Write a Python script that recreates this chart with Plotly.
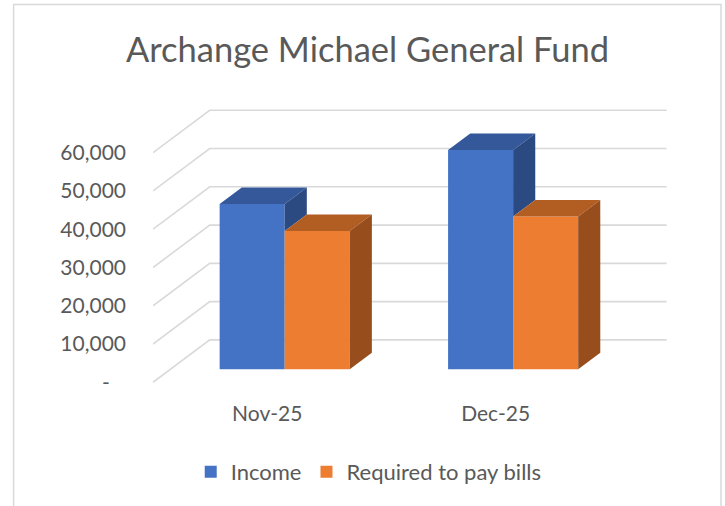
import plotly.graph_objects as go

# ---------------- data ----------------
categories = ["Nov-25", "Dec-25"]
income = [43200, 57300]
required = [36100, 39900]
series_names = ["Income", "Required to pay bills"]
y_tickvals = [0, 10000, 20000, 30000, 40000, 50000, 60000]
y_ticktext = ["-\u00a0\u00a0\u00a0", "10,000", "20,000", "30,000", "40,000", "50,000", "60,000"]
title_text = "Archange Michael General Fund"

# ---------------- styling / geometry ----------------
W, H = 725, 506
L = 153.3
R = W - 675
T = 95
B = H - 395
PLOT_W = W - L - R
PLOT_H = H - T - B
PX_PER_CAT = 228.3
PX_PER_VAL = 38.27 / 10000.0
ZERO_PX = 382.3                 # pixel y of value 0 on the front plane
plot_bottom_px = H - B
y_min = -(plot_bottom_px - ZERO_PX) / PX_PER_VAL
y_max = (ZERO_PX - T) / PX_PER_VAL
x_min = -0.5
x_max = x_min + PLOT_W / PX_PER_CAT

# oblique depth (full wall depth) in data units
DX = 56.7 / PX_PER_CAT
DY = 42.4 / PX_PER_VAL
F_FRONT = 0.308     # bar front at this fraction of depth
F_DEPTH = 0.39      # bar depth as fraction of total depth
BAR_W = 65 / PX_PER_CAT

FRONT = ["#4472C4", "#ED7D31"]
TOP = ["#34589A", "#B25D21"]
SIDE = ["#2B4A82", "#974E1C"]
GRID = "#D9D9D9"
TXT = "#595959"
FONT = "Lato"

fig = go.Figure()

series = [income, required]
n_cat = len(categories)

# front faces as bars
for s, vals in enumerate(series):
    xs = [i + F_FRONT * DX + (s - 1) * BAR_W + BAR_W / 2 for i in range(n_cat)]
    fig.add_trace(go.Bar(
        x=xs, y=vals, base=[F_FRONT * DY] * n_cat, width=BAR_W,
        name=series_names[s], marker=dict(color=FRONT[s], line=dict(width=0)),
        hovertemplate="%{text}: %{y:,}<extra>" + series_names[s] + "</extra>",
        text=categories, textposition="none",
    ))

# top and side faces
for i in range(n_cat):
    for s, vals in enumerate(series):
        v = vals[i]
        x0 = i + F_FRONT * DX + (s - 1) * BAR_W
        x1 = x0 + BAR_W
        yb = F_FRONT * DY
        ddx, ddy = F_DEPTH * DX, F_DEPTH * DY
        # top face
        fig.add_trace(go.Scatter(
            x=[x0, x1, x1 + ddx, x0 + ddx, x0],
            y=[v + yb, v + yb, v + yb + ddy, v + yb + ddy, v + yb],
            fill="toself", fillcolor=TOP[s], mode="lines",
            line=dict(width=0, color=TOP[s]), showlegend=False, hoverinfo="skip"))
        # side face: hidden where the next series bar stands next to it
        h0 = 0
        if s + 1 < len(series):
            h0 = series[s + 1][i]
        if h0 < v:
            fig.add_trace(go.Scatter(
                x=[x1, x1, x1 + ddx, x1 + ddx, x1],
                y=[h0 + yb, v + yb, v + yb + ddy, h0 + yb + ddy, h0 + yb],
                fill="toself", fillcolor=SIDE[s], mode="lines",
                line=dict(width=0, color=SIDE[s]), showlegend=False, hoverinfo="skip"))

# wall gridlines (left wall slant + back wall)
shapes = []
x_front_left = x_min
x_front_right = x_min + n_cat
for v in y_tickvals:
    path = "M {a},{b} L {c},{d} L {e},{f}".format(
        a=x_front_left, b=v, c=x_front_left + DX, d=v + DY,
        e=x_front_right + DX, f=v + DY)
    shapes.append(dict(type="path", path=path, xref="x", yref="y",
                       line=dict(color=GRID, width=1.6), layer="below"))

# chart border
def px_to_paper_x(px):
    return (px - L) / PLOT_W

def px_to_paper_y(py):
    return (plot_bottom_px - py) / PLOT_H

shapes.append(dict(type="rect", xref="paper", yref="paper",
                   x0=px_to_paper_x(14), x1=px_to_paper_x(721),
                   y0=px_to_paper_y(530), y1=px_to_paper_y(4.5),
                   line=dict(color=GRID, width=1.5), layer="below"))

fig.update_layout(
    width=W, height=H,
    margin=dict(l=L, r=R, t=T, b=B, pad=0, autoexpand=False),
    paper_bgcolor="white", plot_bgcolor="white",
    barmode="overlay",
    shapes=shapes,
    font=dict(family=FONT, color=TXT, size=21),
    title=dict(text=title_text, font=dict(family=FONT, size=34.5, color=TXT),
               x=367.5 / W, xref="container", xanchor="center",
               y=1 - 49.5 / H, yref="container", yanchor="middle"),
    xaxis=dict(range=[x_min, x_max], tickvals=list(range(n_cat)), ticktext=categories,
               showgrid=False, zeroline=False, showline=False, ticks="",
               tickfont=dict(size=21, color=TXT, family=FONT), ticklabelstandoff=4,
               fixedrange=True),
    yaxis=dict(range=[y_min, y_max], tickvals=y_tickvals, ticktext=y_ticktext,
               showgrid=False, zeroline=False, showline=False, ticks="",
               tickfont=dict(size=21, color=TXT, family=FONT), ticklabelstandoff=26,
               fixedrange=True),
    legend=dict(orientation="h", x=px_to_paper_x(191), xanchor="left",
                y=px_to_paper_y(472), yanchor="middle",
                font=dict(size=22, color=TXT, family=FONT),
                bgcolor="rgba(0,0,0,0)", traceorder="normal"),
    showlegend=True,
)

fig.write_html("out.html",
               config={"displayModeBar": False},
               post_script="document.body.style.margin='0';document.body.style.overflow='hidden';")
